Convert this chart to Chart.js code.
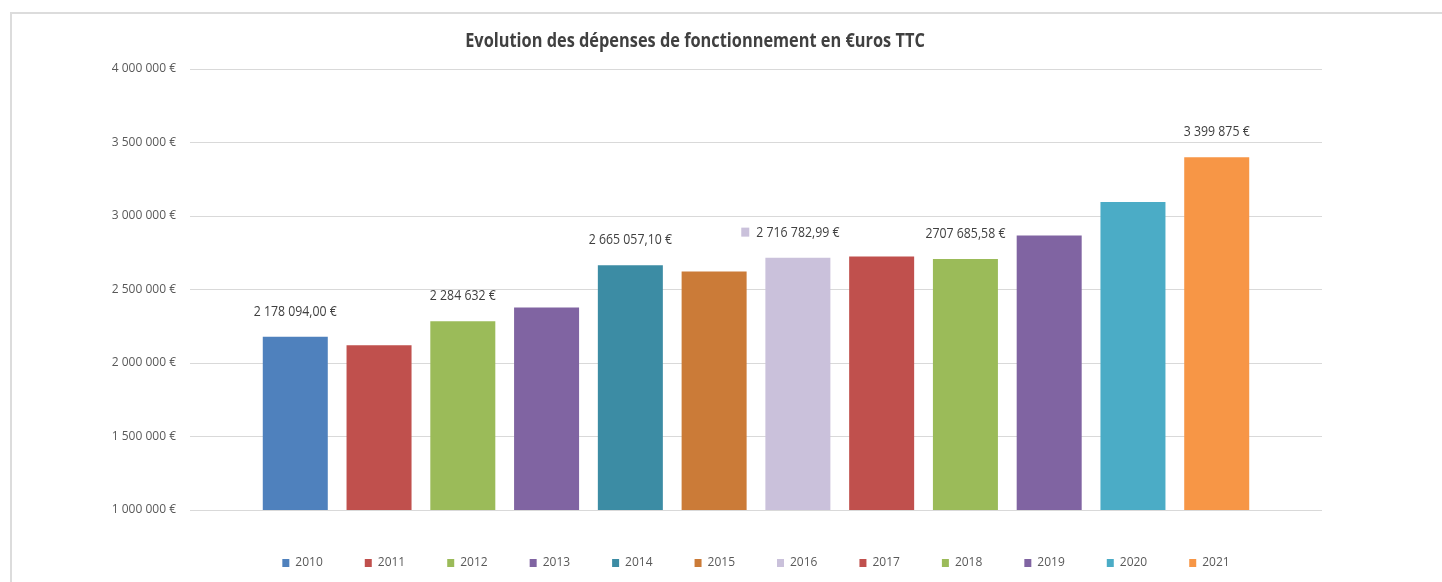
<!DOCTYPE html>
<html>
<head>
<meta charset="utf-8">
<script src="https://cdn.jsdelivr.net/npm/chart.js@4.4.1/dist/chart.umd.min.js"></script>
<style>
body { margin: 0; background: #fff; overflow: hidden; width: 1442px; height: 582px; position: relative; }
#frame { position: absolute; left: 10px; top: 12px; width: 1440px; height: 580px; border-top: 2px solid #dcdcdc; border-left: 2px solid #dcdcdc; }
#title { position: absolute; left: 0; top: 13px; width: 1366px; text-align: center; font: bold 19px "Open Sans", sans-serif; color: #404040; transform: scaleX(0.86); transform-origin: 683px 0; }
#chart { position: absolute; left: 0; top: 0; }
</style>
</head>
<body>
<div id="frame">
  <canvas id="chart" width="1428" height="565"></canvas>
  <div id="title">Evolution des dépenses de fonctionnement en €uros TTC</div>
</div>
<script>
var years = ['2010','2011','2012','2013','2014','2015','2016','2017','2018','2019','2020','2021'];
var amounts = [2178094.00, 2120000, 2284632, 2378000, 2665057.10, 2622000, 2716782.99, 2724000, 2707685.58, 2867000, 3095000, 3399875];
var colors = ['#4F81BD','#C0504D','#9BBB59','#8064A2','#3C8CA4','#CB7B38','#CAC1DB','#C0504D','#9BBB59','#8064A2','#4BACC6','#F79646'];
// labels shown above some bars (as typed in the original sheet)
var valueLabels = ['2 178 094,00 €','','2 284 632 €','','2 665 057,10 €','','2 716 782,99 €','','2707 685,58 €','','','3 399 875 €'];
var labelKey = [false,false,false,false,false,false,true,false,false,false,false,false];
var yTicks = { min: 1000000, max: 4000000, step: 500000 };

var FONT = '"Open Sans", sans-serif';

function euro(v) {
  return String(v).replace(/\B(?=(\d{3})+(?!\d))/g, ' ') + ' €';
}

// legend items in the original are spaced ~82.4px apart
var mctx = document.createElement('canvas').getContext('2d');
mctx.font = '12px ' + FONT;
var tw = mctx.measureText('2010').width;
var legendPad = Math.max(10, Math.round(82.4 - (7 + 6 + tw)));

var datasets = years.map(function (y, i) {
  return {
    label: y,
    data: [amounts[i]],
    backgroundColor: colors[i],
    borderWidth: 0
  };
});

var barLabels = {
  id: 'barLabels',
  afterDatasetsDraw: function (chart) {
    var ctx = chart.ctx;
    var sx = 0.88; // narrower glyphs, like the original font
    chart.data.datasets.forEach(function (ds, i) {
      var txt = valueLabels[i];
      if (!txt) return;
      var bar = chart.getDatasetMeta(i).data[0];
      var y = bar.y - 25;
      ctx.save();
      ctx.font = '14px ' + FONT;
      ctx.textAlign = 'center';
      ctx.textBaseline = 'middle';
      var w = ctx.measureText(txt).width * sx;
      ctx.translate(bar.x, y);
      ctx.scale(sx, 1);
      ctx.fillStyle = '#404040';
      ctx.fillText(txt, 0, 0);
      ctx.restore();
      if (labelKey[i]) {
        ctx.save();
        ctx.fillStyle = ds.backgroundColor;
        ctx.fillRect(bar.x - w / 2 - 15, y - 5, 8, 9);
        ctx.restore();
      }
    });
  }
};

new Chart(document.getElementById('chart'), {
  type: 'bar',
  data: { labels: [''], datasets: datasets },
  options: {
    responsive: false,
    animation: false,
    layout: { padding: { left: 0, right: 118, top: 55, bottom: 0 } },
    datasets: { bar: { categoryPercentage: 0.888, barPercentage: 0.776 } },
    scales: {
      x: {
        grid: { display: false },
        border: { display: false },
        ticks: { display: false },
        afterFit: function (s) { s.height = Math.max(0, 47 - legendPad); }
      },
      y: {
        min: yTicks.min,
        max: yTicks.max,
        ticks: {
          stepSize: yTicks.step,
          padding: 14,
          color: '#595959',
          font: { family: FONT, size: 12 },
          callback: function (v) { return euro(v); }
        },
        grid: { color: '#d9d9d9', lineWidth: 1, drawTicks: false },
        border: { display: false },
        afterFit: function (s) { s.width = 178; }
      }
    },
    plugins: {
      title: { display: false },
      tooltip: { enabled: false },
      legend: {
        position: 'bottom',
        fullSize: false,
        labels: {
          boxWidth: 7,
          boxHeight: 8,
          padding: legendPad,
          color: '#595959',
          font: { family: FONT, size: 12 }
        }
      }
    }
  },
  plugins: [barLabels]
});
</script>
</body>
</html>
